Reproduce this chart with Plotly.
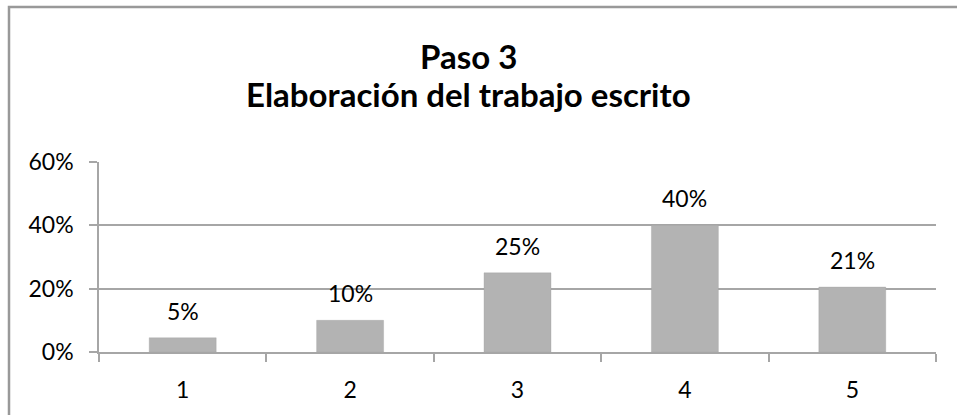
import plotly.graph_objects as go

categories = ["1", "2", "3", "4", "5"]
values = [0.045, 0.10, 0.25, 0.40, 0.205]
labels = ["5%", "10%", "25%", "40%", "21%"]
title_lines = ["Paso 3", "Elaboración del trabajo escrito"]

FONT = "Lato"
GRID = "#a6a6a6"

fig = go.Figure()
fig.add_trace(go.Bar(
    x=categories, y=values,
    marker=dict(color="#b3b3b3", line=dict(width=1, color="rgba(160,160,160,0.35)")),
    hoverinfo="skip",
))

for i, (v, t) in enumerate(zip(values, labels)):
    fig.add_annotation(x=i, y=v, xref="x", yref="y", text=t, showarrow=False, yshift=27,
                       font=dict(family=FONT, size=23, color="#000000"))

title_centers_px = [56, 94.5]
for line, cy in zip(title_lines, title_centers_px):
    fig.add_annotation(
        xref="paper", yref="paper", x=(468 - 99) / 837, y=(352 - cy) / 190,
        text="<b>" + line + "</b>",
        showarrow=False, font=dict(family=FONT, size=33, color="#000000"),
        xanchor="center", yanchor="middle",
    )

fig.add_shape(type="rect", xref="paper", yref="paper",
              x0=(9 - 99) / 837, x1=1.2, y0=-1.0, y1=(352 - 7) / 190,
              line=dict(color="#999999", width=2.5), fillcolor="rgba(0,0,0,0)")

fig.update_layout(
    width=957, height=415,
    margin=dict(l=99, r=21, t=162, b=63),
    paper_bgcolor="white", plot_bgcolor="white",
    bargap=0.6,
    showlegend=False,
    hovermode=False,
    font=dict(family=FONT, size=23, color="#000000"),
)
fig.update_xaxes(
    type="category", range=[-0.5, 4.5], showline=True, linecolor=GRID, linewidth=1.5,
    ticks="outside", tickson="boundaries", ticklen=8, tickcolor=GRID, tickwidth=1.5,
    showgrid=False, tickfont=dict(family=FONT, size=23, color="#000000"),
    ticklabelstandoff=17,
)
fig.update_yaxes(
    range=[0, 0.6], dtick=0.2, tickformat=".0%",
    showline=True, linecolor=GRID, linewidth=1.5,
    ticks="outside", ticklen=8, tickcolor=GRID, tickwidth=1.5,
    showgrid=True, gridcolor=GRID, gridwidth=1.5, zeroline=False,
    tickfont=dict(family=FONT, size=23, color="#000000"),
    ticklabelstandoff=11,
)

fig.write_html("out.html", config={"displayModeBar": False},
               post_script="document.body.style.margin='0';document.body.style.overflow='hidden';")
